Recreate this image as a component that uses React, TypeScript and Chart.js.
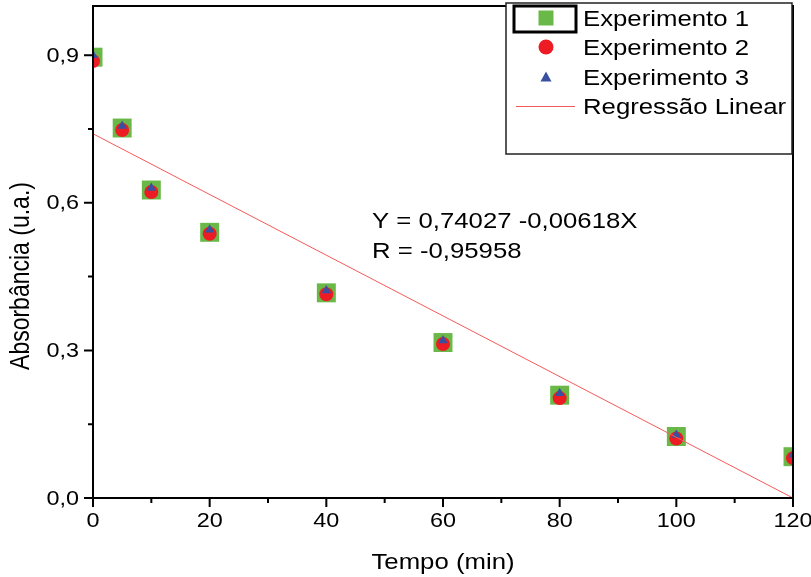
import React, { useEffect, useRef } from "react";
import { Chart, registerables } from "chart.js";

Chart.register(...registerables);

const times = [0, 5, 10, 20, 40, 60, 80, 100, 120];
const exp1 = [0.896, 0.752, 0.626, 0.540, 0.417, 0.316, 0.209, 0.125, 0.084];
const exp2 = [0.888, 0.748, 0.622, 0.537, 0.414, 0.313, 0.203, 0.121, 0.081];
const exp3 = [0.900, 0.756, 0.630, 0.545, 0.422, 0.320, 0.213, 0.128, 0.088];
const regX = [0, 120];
const regY = [0.74027, 0.0];

const xMajorTicks = [0, 20, 40, 60, 80, 100, 120];
const xMinorTicks = [10, 30, 50, 70, 90, 110];
const yMajorTicks = [0, 0.3, 0.6, 0.9];
const yMajorLabels = ["0,0", "0,3", "0,6", "0,9"];
const yMinorTicks = [0.15, 0.45, 0.75];

const legendLabels = ["Experimento 1", "Experimento 2", "Experimento 3", "Regressão Linear"];
const equationLines = ["Y = 0,74027 -0,00618X", "R = -0,95958"];

const GREEN = "rgb(106,185,72)";
const RED = "rgb(237,28,36)";
const BLUE = "rgb(57,80,160)";
const LINE = "rgb(245,90,90)";
const FONT = "'Liberation Sans', Arial, sans-serif";
const SX = 1.17;

function sText(ctx: CanvasRenderingContext2D, text: string, x: number, y: number, align: CanvasTextAlign, baseline: CanvasTextBaseline, size: number) {
  ctx.save();
  ctx.translate(x, y);
  ctx.scale(SX, 1);
  ctx.font = `${size}px ${FONT}`;
  ctx.fillStyle = "#000";
  ctx.textAlign = align;
  ctx.textBaseline = baseline;
  ctx.fillText(text, 0, 0);
  ctx.restore();
}

const decorPlugin = {
  id: "decor",
  afterDraw(chart: any) {
    const ctx: CanvasRenderingContext2D = chart.ctx;
    const { left, right, top, bottom } = chart.chartArea;
    const xs = chart.scales.x;
    const ys = chart.scales.y;
    ctx.save();
    ctx.strokeStyle = "#000";
    ctx.lineWidth = 2;
    ctx.strokeRect(left, top, right - left, bottom - top);

    // ticks
    ctx.lineWidth = 2;
    ctx.beginPath();
    xMajorTicks.forEach((v) => {
      const px = xs.getPixelForValue(v);
      ctx.moveTo(px, bottom);
      ctx.lineTo(px, bottom + 9);
    });
    xMinorTicks.forEach((v) => {
      const px = xs.getPixelForValue(v);
      ctx.moveTo(px, bottom);
      ctx.lineTo(px, bottom + 5);
    });
    yMajorTicks.forEach((v) => {
      const py = ys.getPixelForValue(v);
      ctx.moveTo(left, py);
      ctx.lineTo(left - 9, py);
    });
    yMinorTicks.forEach((v) => {
      const py = ys.getPixelForValue(v);
      ctx.moveTo(left, py);
      ctx.lineTo(left - 5, py);
    });
    ctx.stroke();

    // tick labels
    xMajorTicks.forEach((v) => {
      sText(ctx, String(v), xs.getPixelForValue(v), bottom + 13, "center", "top", 20);
    });
    yMajorTicks.forEach((v, i) => {
      sText(ctx, yMajorLabels[i], left - 14, ys.getPixelForValue(v) + 1, "right", "middle", 20);
    });

    // axis titles
    sText(ctx, "Tempo (min)", (left + right) / 2, 569, "center", "alphabetic", 22);
    ctx.save();
    ctx.translate(29, 276);
    ctx.rotate(-Math.PI / 2);
    ctx.scale(1, SX);
    ctx.font = `23px ${FONT}`;
    ctx.fillStyle = "#000";
    ctx.textAlign = "center";
    ctx.textBaseline = "alphabetic";
    ctx.fillText("Absorbância (u.a.)", 0, 0);
    ctx.restore();

    // equation
    sText(ctx, equationLines[0], 372, 228, "left", "alphabetic", 22);
    sText(ctx, equationLines[1], 372, 258, "left", "alphabetic", 22);

    // legend box
    const lx = 506, ly = 3, lw = 286, lh = 151;
    ctx.fillStyle = "#fff";
    ctx.fillRect(lx, ly, lw, lh);
    ctx.strokeStyle = "#222";
    ctx.lineWidth = 1.5;
    ctx.strokeRect(lx, ly, lw, lh);

    const mx = 546;
    const rows = [18, 47, 77, 106];
    // highlight box
    ctx.strokeStyle = "#000";
    ctx.lineWidth = 3;
    ctx.strokeRect(514, 6, 62, 26);
    // square
    ctx.fillStyle = GREEN;
    ctx.fillRect(mx - 7.5, rows[0] - 7.5, 15, 15);
    // circle
    ctx.fillStyle = RED;
    ctx.beginPath();
    ctx.arc(mx, rows[1], 7.5, 0, Math.PI * 2);
    ctx.fill();
    // triangle
    ctx.fillStyle = BLUE;
    ctx.beginPath();
    ctx.moveTo(mx, rows[2] - 5.5);
    ctx.lineTo(mx + 5.5, rows[2] + 4.5);
    ctx.lineTo(mx - 5.5, rows[2] + 4.5);
    ctx.closePath();
    ctx.fill();
    // line
    ctx.strokeStyle = LINE;
    ctx.lineWidth = 1;
    ctx.beginPath();
    ctx.moveTo(516, rows[3] + 0.5);
    ctx.lineTo(575, rows[3] + 0.5);
    ctx.stroke();

    legendLabels.forEach((t, i) => {
      sText(ctx, t, 583, rows[i] + 8, "left", "alphabetic", 22);
    });
    ctx.restore();
  },
};

export default function App() {
  const ref = useRef<HTMLCanvasElement | null>(null);
  useEffect(() => {
    if (!ref.current) return;
    const mk = (arr: number[]) => times.map((t, i) => ({ x: t, y: arr[i] }));
    const chart = new Chart(ref.current, {
      type: "scatter",
      data: {
        datasets: [
          {
            type: "line",
            label: legendLabels[3],
            data: regX.map((x, i) => ({ x, y: regY[i] })),
            borderColor: LINE,
            borderWidth: 1,
            pointRadius: 0,
            fill: false,
            order: 0,
            clip: 0,
          } as any,
          {
            label: legendLabels[2],
            data: mk(exp3),
            pointStyle: "triangle",
            pointRadius: 5.5,
            pointBackgroundColor: BLUE,
            pointBorderWidth: 0,
            order: 1,
            clip: 0,
          },
          {
            label: legendLabels[1],
            data: mk(exp2),
            pointStyle: "circle",
            pointRadius: 7,
            pointBackgroundColor: RED,
            pointBorderWidth: 0,
            order: 2,
            clip: 0,
          },
          {
            label: legendLabels[0],
            data: mk(exp1),
            pointStyle: "rect",
            pointRadius: 13.4,
            pointBackgroundColor: GREEN,
            pointBorderWidth: 0,
            order: 3,
            clip: 0,
          },
        ],
      },
      options: {
        responsive: false,
        animation: false,
        devicePixelRatio: 1,
        layout: { autoPadding: false, padding: { left: 93, right: 18, top: 6, bottom: 79 } },
        scales: {
          x: { type: "linear", min: 0, max: 120, display: false },
          y: { type: "linear", min: 0, max: 1.0, display: false },
        },
        plugins: { legend: { display: false }, tooltip: { enabled: false } },
        events: [],
      },
      plugins: [decorPlugin],
    });
    return () => chart.destroy();
  }, []);
  return (
    <div style={{ position: "absolute", left: 0, top: 0, width: 811, height: 577, background: "#fff" }}>
      <canvas ref={ref} width={811} height={577} />
    </div>
  );
}
